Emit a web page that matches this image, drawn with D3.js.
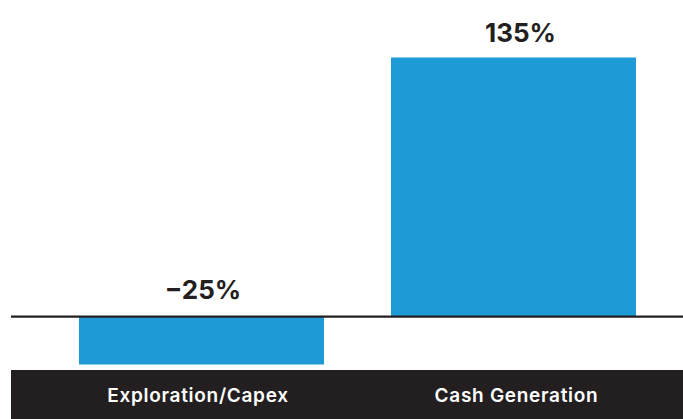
<!DOCTYPE html>
<html>
<head>
<meta charset="utf-8">
<script src="https://cdn.jsdelivr.net/npm/d3@7/dist/d3.min.js"></script>
<style>
  html, body { margin: 0; padding: 0; background: #fff; }
  svg { display: block; }
</style>
</head>
<body>
<svg id="chart" width="683" height="419"></svg>
<script>
// Change by segment, in percent
const categories = ["Exploration/Capex", "Cash Generation"];
const values = [-25, 135];
const valueLabels = ["\u221225%", "135%"];

const W = 683, H = 419;
const svg = d3.select("#chart");

const x = d3.scaleBand()
  .domain(categories)
  .range([11, 704])
  .paddingInner(0.2147)
  .paddingOuter(0.218);

const y = d3.scaleLinear()
  .domain([-25, 135])
  .range([364.5, 57.5]);

const blue = "#1e9ad7";
const ink = "#231f20";
const font = "Inter, 'Liberation Sans', Arial, sans-serif";

// horizontal nudges for the labels, in px
const valueNudge = [1.5, 7];
const catNudge = [-3.5, 3];

// bars
svg.append("g").selectAll("rect")
  .data(values)
  .join("rect")
  .attr("x", (d, i) => x(categories[i]))
  .attr("width", x.bandwidth())
  .attr("y", d => y(Math.max(0, d)))
  .attr("height", d => Math.abs(y(d) - y(0)))
  .attr("fill", blue);

// zero line
svg.append("line")
  .attr("x1", 11).attr("x2", W)
  .attr("y1", y(0)).attr("y2", y(0))
  .attr("stroke", ink)
  .attr("stroke-width", 2.2);

// value labels sit above the bar top, or above the zero line for negatives
svg.append("g").selectAll("text")
  .data(values)
  .join("text")
  .attr("x", (d, i) => x(categories[i]) + x.bandwidth() / 2 + valueNudge[i])
  .attr("y", d => y(Math.max(0, d)) - (d < 0 ? 17.5 : 16))
  .attr("text-anchor", "middle")
  .attr("font-family", font)
  .attr("font-weight", 700)
  .attr("font-size", 26)
  .attr("fill", ink)
  .text((d, i) => valueLabels[i]);

// category band
svg.append("rect")
  .attr("x", 11).attr("y", 370)
  .attr("width", W - 11).attr("height", H - 370)
  .attr("fill", ink);

const xAxis = d3.axisBottom(x).tickSize(0).tickPadding(0);
const gx = svg.append("g")
  .attr("transform", "translate(0,401.7)")
  .call(xAxis);
gx.select(".domain").remove();
gx.selectAll(".tick text")
  .attr("fill", "#fff")
  .attr("font-family", font)
  .attr("font-weight", 600)
  .attr("font-size", 19)
  .attr("letter-spacing", "0.7px")
  .attr("dy", 0)
  .attr("dx", (d, i) => catNudge[i]);
</script>
</body>
</html>
